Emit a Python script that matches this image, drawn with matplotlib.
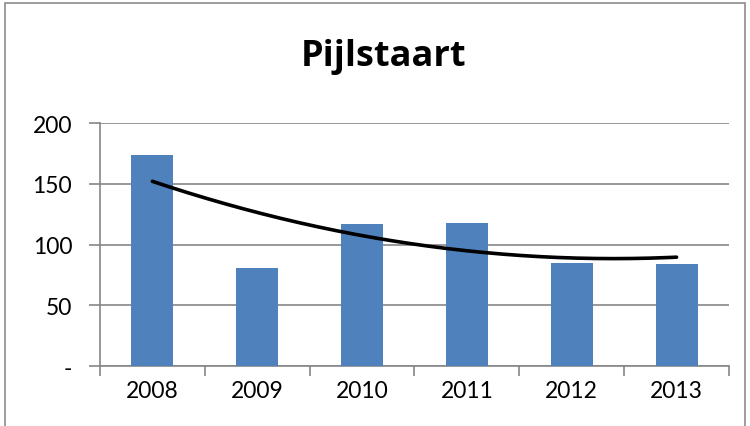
import matplotlib
matplotlib.use("Agg")
import matplotlib.pyplot as plt
from matplotlib.patches import Rectangle
import numpy as np

# -- Data --------------------------------------------------------------------
years = ["2008", "2009", "2010", "2011", "2012", "2013"]
counts = [174, 81, 117, 118, 85, 84]
y_ticks = [0, 50, 100, 150, 200]
y_labels = ["-", "50", "100", "150", "200"]

BAR_BLUE = "#4F81BD"
GRID_GRAY = "#868686"

plt.rcParams["font.family"] = ["Lato", "DejaVu Sans"]

fig = plt.figure(figsize=(7.5, 4.27), dpi=100)
fig.patch.set_facecolor("white")

# chart frame
fig.patches.append(Rectangle((0.007, -0.05), 0.986, 1.04, transform=fig.transFigure,
                             fill=False, edgecolor="#8C8C8C", linewidth=1.2))

ax = fig.add_axes([0.1333, 0.1405, 0.8387, 0.5691])
x = np.arange(len(years))
ax.bar(x, counts, width=0.4, color=BAR_BLUE, zorder=3)

# 2nd order polynomial trend line
coef = np.polyfit(x, counts, 2)
xs = np.linspace(x[0], x[-1], 200)
ax.plot(xs, np.polyval(coef, xs), color="black", linewidth=2.6, zorder=4,
        solid_capstyle="round")

ax.set_xlim(-0.5, len(years) - 0.5)
ax.set_ylim(0, 200)
ax.set_yticks(y_ticks)
ax.set_yticklabels(y_labels, fontsize=16.5)
ax.set_xticks(x)
ax.set_xticklabels(years, fontsize=16.5)
ax.tick_params(axis="x", length=0, pad=10)
ax.tick_params(axis="y", length=8, width=1.2, color=GRID_GRAY, pad=12)

# category boundary ticks
ax.set_xticks(np.arange(len(years) + 1) - 0.5, minor=True)
ax.tick_params(axis="x", which="minor", length=7, width=1.2, color=GRID_GRAY)

ax.grid(axis="y", color=GRID_GRAY, linewidth=1.2, zorder=0)
for side in ["top", "right"]:
    ax.spines[side].set_visible(False)
ax.spines["left"].set_color(GRID_GRAY)
ax.spines["bottom"].set_color(GRID_GRAY)
ax.spines["left"].set_linewidth(1.2)
ax.spines["bottom"].set_linewidth(1.2)

fig.text(0.512, 0.866, "Pijlstaart", ha="center", va="center",
         fontsize=26, fontweight="bold", family=["Open Sans", "DejaVu Sans"])

fig.savefig("out.png", dpi=100)
